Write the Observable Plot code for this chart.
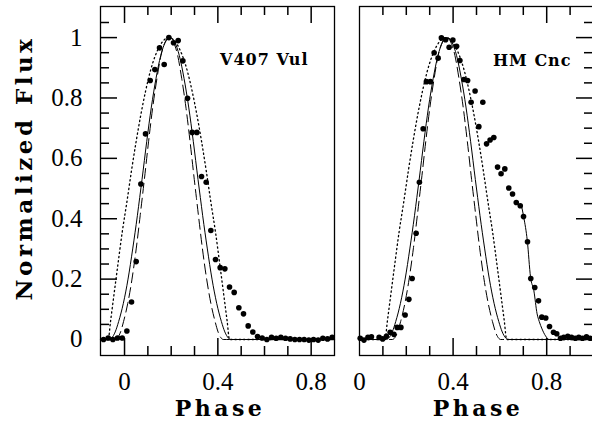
<!DOCTYPE html>
<html><head><meta charset="utf-8">
<script src="https://cdn.jsdelivr.net/npm/d3@7"></script>
<script src="https://cdn.jsdelivr.net/npm/@observablehq/plot@0.6"></script>
<style>
html,body{margin:0;padding:0;background:#fff;overflow:hidden;}
#wrap{position:relative;width:592px;height:423px;overflow:hidden;background:#fff;}
#wrap > svg{position:absolute;top:0;}
.name{letter-spacing:1px;}
</style></head><body><div id="wrap">
<svg id="titles" width="592" height="423" style="left:0;z-index:2;pointer-events:none">
<text x="32" y="168" transform="rotate(-90 32 168)" text-anchor="middle" style="font-family:'DejaVu Serif';font-weight:bold;font-size:23px;letter-spacing:3.5px">Normalized Flux</text>
<text x="220" y="416" text-anchor="middle" style="font-family:'DejaVu Serif';font-weight:bold;font-size:22px;letter-spacing:3.5px">Phase</text>
<text x="478" y="416" text-anchor="middle" style="font-family:'DejaVu Serif';font-weight:bold;font-size:22px;letter-spacing:3.5px">Phase</text>
</svg>
</div>
<script>
// ---- observed points ----
const leftPhase = [-0.09,-0.07,-0.05,-0.03,-0.01,0.01,0.03,0.05,0.07,0.09,0.11,0.13,0.15,0.17,0.19,0.21,0.23,0.25,0.27,0.29,0.31,0.33,0.35,0.37,0.39,0.41,0.43,0.45,0.47,0.49,0.51,0.53,0.55,0.57,0.59,0.61,0.63,0.65,0.67,0.69,0.71,0.73,0.75,0.77,0.79,0.81,0.83,0.85,0.87,0.89];
const leftFlux = [0.0,0.005,0.0,0.005,0.005,0.028,0.124,0.258,0.515,0.681,0.858,0.894,0.966,0.911,1.0,0.983,0.99,0.923,0.799,0.686,0.686,0.540,0.521,0.361,0.265,0.238,0.234,0.174,0.156,0.105,0.085,0.045,0.025,0.01,0.005,0.0,0.007,0.004,0.007,0.004,0.002,0.0,0.0,0.0,-0.002,0.0,-0.002,0.004,0.002,0.007];
const rightPhase = [0.003,0.019,0.036,0.051,0.084,0.099,0.115,0.131,0.147,0.161,0.177,0.195,0.211,0.225,0.242,0.256,0.272,0.286,0.303,0.319,0.336,0.350,0.368,0.383,0.399,0.415,0.429,0.446,0.462,0.477,0.494,0.510,0.527,0.543,0.558,0.574,0.590,0.605,0.621,0.638,0.654,0.670,0.687,0.701,0.718,0.732,0.749,0.765,0.779,0.796,0.812,0.829,0.843,0.859,0.873,0.890,0.906,0.922,0.937,0.953,0.970,0.986];
const rightFlux = [0.004,-0.002,0.007,0.009,0.007,0.002,0.011,0.024,0.017,0.040,0.040,0.081,0.133,0.202,0.352,0.521,0.698,0.854,0.854,0.950,0.932,0.999,0.993,0.968,0.992,0.971,0.924,0.861,0.858,0.786,0.823,0.705,0.786,0.648,0.661,0.669,0.571,0.549,0.565,0.502,0.482,0.454,0.443,0.407,0.324,0.202,0.172,0.128,0.074,0.071,0.043,0.024,0.019,0.004,0.007,0.011,0.007,0.004,0.007,0.004,0.009,0.004];

// ---- model curves ----
const leftSolidX = [-0.103,-0.065,-0.055,-0.04,-0.025,-0.005,0.015,0.035,0.055,0.065,0.075,0.095,0.115,0.135,0.155,0.175,0.195,0.215,0.235,0.255,0.275,0.295,0.315,0.325,0.335,0.355,0.375,0.395,0.415,0.43,0.445,0.455,0.9];
const leftSolidY = [0,0,0.005,0.025,0.06,0.12,0.20,0.30,0.41,0.47,0.53,0.655,0.77,0.865,0.94,0.985,1,0.985,0.94,0.865,0.77,0.655,0.53,0.47,0.41,0.30,0.20,0.12,0.06,0.025,0.005,0,0];
const leftDashX = [-0.103,-0.039,-0.030,-0.017,-0.004,0.014,0.032,0.050,0.067,0.076,0.085,0.103,0.121,0.139,0.156,0.174,0.192,0.210,0.228,0.245,0.263,0.281,0.299,0.308,0.317,0.334,0.352,0.370,0.388,0.401,0.414,0.423,0.9];
const leftDashY = [0,0,0.005,0.025,0.06,0.12,0.20,0.30,0.41,0.47,0.53,0.655,0.77,0.865,0.94,0.985,1,0.985,0.94,0.865,0.77,0.655,0.53,0.47,0.41,0.30,0.20,0.12,0.06,0.025,0.005,0,0];
const leftDotX = [-0.103,-0.07,-0.06,-0.05,-0.03,-0.01,0.01,0.03,0.05,0.07,0.09,0.11,0.15,0.19,0.23,0.27,0.29,0.31,0.33,0.35,0.37,0.39,0.41,0.43,0.44,0.45,0.9];
const leftDotY = [0,0,0.06,0.12,0.239,0.355,0.455,0.56,0.657,0.745,0.822,0.887,0.971,1,0.971,0.887,0.822,0.745,0.657,0.56,0.455,0.355,0.239,0.12,0.06,0,0];

const rightSolidX = [0,0.115,0.125,0.14,0.155,0.175,0.195,0.215,0.235,0.245,0.255,0.275,0.295,0.315,0.335,0.355,0.375,0.395,0.415,0.435,0.455,0.475,0.495,0.505,0.515,0.535,0.555,0.575,0.595,0.61,0.625,0.635,1.0];
const rightSolidY = [0,0,0.005,0.025,0.06,0.12,0.20,0.30,0.41,0.47,0.53,0.655,0.77,0.865,0.94,0.985,1,0.985,0.94,0.865,0.77,0.655,0.53,0.47,0.41,0.30,0.20,0.12,0.06,0.025,0.005,0,0];
const rightDashX = [0,0.141,0.150,0.163,0.176,0.194,0.212,0.230,0.247,0.256,0.265,0.283,0.301,0.319,0.336,0.354,0.372,0.390,0.408,0.425,0.443,0.461,0.479,0.488,0.497,0.514,0.532,0.550,0.568,0.581,0.594,0.603,1.0];
const rightDashY = [0,0,0.005,0.025,0.06,0.12,0.20,0.30,0.41,0.47,0.53,0.655,0.77,0.865,0.94,0.985,1,0.985,0.94,0.865,0.77,0.655,0.53,0.47,0.41,0.30,0.20,0.12,0.06,0.025,0.005,0,0];
const rightDotX = [0,0.109,0.119,0.129,0.149,0.169,0.189,0.209,0.229,0.249,0.269,0.289,0.329,0.369,0.409,0.449,0.469,0.489,0.509,0.529,0.549,0.569,0.589,0.609,0.619,0.629,1.0];
const rightDotY = [0,0,0.06,0.12,0.239,0.355,0.455,0.56,0.657,0.745,0.822,0.887,0.971,1,0.971,0.887,0.822,0.745,0.657,0.56,0.455,0.355,0.239,0.12,0.06,0,0];
const rightTailX = [0.692,0.702,0.717,0.731,0.745,0.759,0.768,0.78,0.795,0.81,0.83];
const rightTailY = [0.444,0.405,0.328,0.206,0.162,0.085,0.06,0.035,0.012,0,0];

// ---- ticks / labels ----
const yMajor = [0,0.2,0.4,0.6,0.8,1];
const yMinor = [0.05,0.1,0.15,0.25,0.3,0.35,0.45,0.5,0.55,0.65,0.7,0.75,0.85,0.9,0.95,1.05];
const xMajorLeft = [0,0.4,0.8];
const xMinorLeft = [0.1,0.2,0.3,0.5,0.6,0.7];
const xMajorRight = [0.4,0.8];
const xMinorRight = [0.1,0.2,0.3,0.5,0.6,0.7,0.9];
const xLabels = [0,0.4,0.8];
const nameLeft = "V407 Vul";
const nameRight = "HM Cnc";

const zipXY = (xs, ys) => xs.map((x, i) => ({x, y: ys[i]}));
const FONT = "Liberation Serif";
const MAJ = 17, MIN = 9;
const H = 423, MT = 6, MB = 68;
const FH = H - MT - MB; // frame height in px

// inward ticks via tick marks with large insets (tick length = frame size - inset)
function tickMarks(xMaj, xMin, yAnchor, frameWidth) {
  const id = d => d;
  const side = (len) => yAnchor === "left" ? {insetRight: frameWidth - len} : {insetLeft: frameWidth - len};
  const opts = {stroke: "black", strokeWidth: 1.5};
  return [
    Plot.tickX(xMaj, {x: id, insetTop: FH - MAJ, ...opts}),
    Plot.tickX(xMin, {x: id, insetTop: FH - MIN, ...opts}),
    Plot.tickX(xMaj, {x: id, insetBottom: FH - MAJ, ...opts}),
    Plot.tickX(xMin, {x: id, insetBottom: FH - MIN, ...opts}),
    Plot.tickY(yMajor, {y: id, ...side(MAJ), ...opts}),
    Plot.tickY(yMinor, {y: id, ...side(MIN), ...opts})
  ];
}

function curveMarks(solid, dash, dot) {
  return [
    Plot.line(dot, {x: "x", y: "y", curve: "monotone-x", stroke: "black", strokeWidth: 1.3, strokeDasharray: "1.3,3", strokeLinecap: "round"}),
    Plot.line(dash, {x: "x", y: "y", curve: "monotone-x", stroke: "black", strokeWidth: 1, strokeDasharray: "10,5"}),
    Plot.line(solid, {x: "x", y: "y", curve: "monotone-x", stroke: "black", strokeWidth: 1})
  ];
}

const left = Plot.plot({
  width: 340, height: H,
  marginLeft: 100, marginRight: 6, marginTop: MT, marginBottom: MB,
  x: {domain: [-0.103, 0.9]},
  y: {domain: [-0.053, 1.103]},
  style: {background: "white", overflow: "visible"},
  marks: [
    Plot.frame({stroke: "black", strokeWidth: 1.3}),
    ...curveMarks(zipXY(leftSolidX, leftSolidY), zipXY(leftDashX, leftDashY), zipXY(leftDotX, leftDotY)),
    Plot.dot(zipXY(leftPhase, leftFlux), {x: "x", y: "y", r: 2.8, fill: "black", stroke: "none"}),
    Plot.text([nameLeft], {frameAnchor: "top-right", dx: -26, dy: 47, textAnchor: "end", fontSize: 16, fontWeight: "bold", fontFamily: "DejaVu Serif", fill: "black", className: "name"}),
    Plot.axisX({ticks: xLabels, anchor: "bottom", tickSize: 0, tickPadding: 17, fontSize: 25, fontFamily: FONT, tickFormat: d => String(d), label: null}),
    Plot.axisY({ticks: yMajor, anchor: "left", tickSize: 0, tickPadding: 18, fontSize: 25, fontFamily: FONT, tickFormat: d => String(d), label: null}),
    ...tickMarks(xMajorLeft, xMinorLeft, "left", 340 - 100 - 6)
  ]
});
left.style.left = "0px";

const right = Plot.plot({
  width: 254, height: H,
  marginLeft: 19, marginRight: 1, marginTop: MT, marginBottom: MB,
  x: {domain: [0, 1.0]},
  y: {domain: [-0.053, 1.103], axis: null},
  style: {background: "white", overflow: "visible"},
  marks: [
    Plot.frame({stroke: "black", strokeWidth: 1.3}),
    ...curveMarks(zipXY(rightSolidX, rightSolidY), zipXY(rightDashX, rightDashY), zipXY(rightDotX, rightDotY)),
    Plot.line(zipXY(rightTailX, rightTailY), {x: "x", y: "y", curve: "monotone-x", stroke: "black", strokeWidth: 1}),
    Plot.dot(zipXY(rightPhase, rightFlux), {x: "x", y: "y", r: 2.8, fill: "black", stroke: "none"}),
    Plot.text([nameRight], {frameAnchor: "top-right", dx: -22, dy: 48, textAnchor: "end", fontSize: 16, fontWeight: "bold", fontFamily: "DejaVu Serif", fill: "black", className: "name"}),
    Plot.axisX({ticks: xLabels, anchor: "bottom", tickSize: 0, tickPadding: 17, fontSize: 25, fontFamily: FONT, tickFormat: d => String(d), label: null}),
    ...tickMarks(xMajorRight, xMinorRight, "right", 254 - 19 - 1)
  ]
});
right.style.left = "340px";

const wrap = document.getElementById("wrap");
wrap.insertBefore(right, wrap.firstChild);
wrap.insertBefore(left, wrap.firstChild);
</script></body></html>
